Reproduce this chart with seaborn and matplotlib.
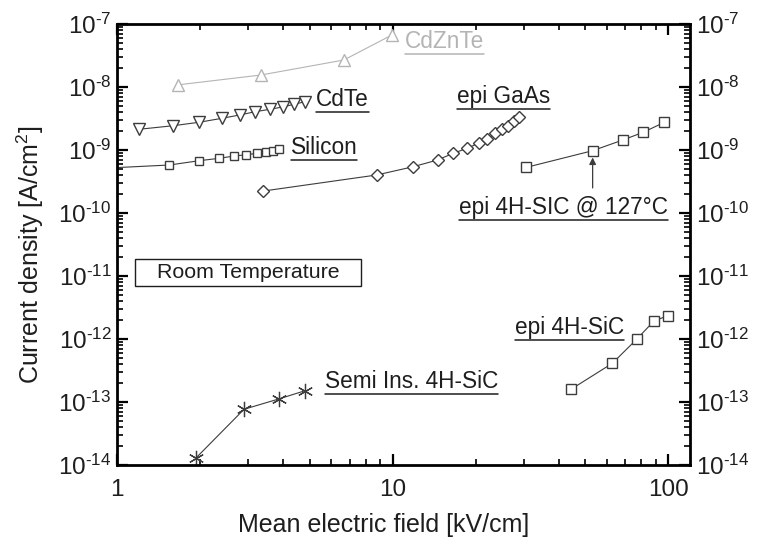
import numpy as np
import matplotlib
matplotlib.use("Agg")
import matplotlib.pyplot as plt
import seaborn as sns
from matplotlib.ticker import LogLocator, FixedLocator, FuncFormatter, NullFormatter
from matplotlib.lines import Line2D
from matplotlib.patches import Rectangle

# ---- data ----
cdznte_x = [1.66, 3.33, 6.65, 9.95]
cdznte_y = [1.08e-8, 1.55e-8, 2.68e-8, 6.7e-8]

cdte_x = [1.20, 1.60, 1.98, 2.41, 2.79, 3.18, 3.59, 3.99, 4.39, 4.81]
cdte_y = [2.13e-9, 2.43e-9, 2.75e-9, 3.19e-9, 3.6e-9, 4.06e-9, 4.43e-9, 4.82e-9, 5.31e-9, 5.85e-9]

si_x = [0.95, 1.55, 1.99, 2.35, 2.66, 2.95, 3.23, 3.46, 3.67, 3.88]
si_y = [5.2e-10, 5.78e-10, 6.77e-10, 7.38e-10, 8.03e-10, 8.42e-10, 8.87e-10, 9.3e-10, 9.64e-10, 1.03e-9]

gaas_x = [3.39, 8.75, 11.88, 14.56, 16.6, 18.6, 20.5, 22.0, 23.6, 24.9, 26.3, 27.6, 28.7]
gaas_y = [2.23e-10, 4.01e-10, 5.43e-10, 6.94e-10, 8.87e-10, 1.06e-9, 1.28e-9, 1.48e-9,
          1.84e-9, 2.13e-9, 2.43e-9, 2.88e-9, 3.38e-9]

sic127_x = [30.6, 53.2, 68.4, 81.2, 96.8]
sic127_y = [5.31e-10, 9.75e-10, 1.44e-9, 1.91e-9, 2.75e-9]

sic_x = [44.4, 62.7, 76.8, 88.8, 99.6]
sic_y = [1.59e-13, 4.11e-13, 9.88e-13, 1.93e-12, 2.34e-12]

si_sic_x = [1.93, 2.89, 3.87, 4.81]
si_sic_y = [1.28e-14, 7.66e-14, 1.12e-13, 1.51e-13]

x_ticks = [1, 10, 100]
x_tick_labels = ["1", "10", "100"]
y_decades = [-14, -13, -12, -11, -10, -9, -8, -7]

# ---- style ----
sns.set_theme(style="white")
plt.rcParams['font.family'] = ['Liberation Sans', 'DejaVu Sans']
plt.rcParams['mathtext.fontset'] = 'custom'
plt.rcParams['mathtext.rm'] = 'Liberation Sans'
plt.rcParams['mathtext.it'] = 'Liberation Sans'
plt.rcParams['mathtext.bf'] = 'Liberation Sans'

DARK = '#3c3c3c'
LIGHT = '#b4b4b4'
TXT = '#1e1e1e'

fig = plt.figure(figsize=(7.67, 5.48), dpi=100)
ax = fig.add_axes([117 / 767, 1 - 465 / 548, (690 - 117) / 767, (465 - 24) / 548])

def series(x, y, marker, ms, color, mew=1.0):
    sns.lineplot(x=x, y=y, ax=ax, sort=False, estimator=None, color=color, lw=0.8,
                 marker=marker, markersize=ms, markerfacecolor='white',
                 markeredgecolor=color, markeredgewidth=mew)

series(cdznte_x, cdznte_y, '^', 9, LIGHT)
series(cdte_x, cdte_y, 'v', 8, DARK)
series(si_x, si_y, 's', 6, DARK)
series(gaas_x, gaas_y, 'D', 6.5, DARK)
series(sic127_x, sic127_y, 's', 7, DARK)
series(sic_x, sic_y, 's', 6.5, DARK)
series(si_sic_x, si_sic_y, (6, 2, 0), 11, DARK, mew=0.9)

ax.set_xscale('log')
ax.set_yscale('log')
ax.set_xlim(1, 120)
ax.set_ylim(1e-14, 1e-7)

ax.xaxis.set_major_locator(FixedLocator(x_ticks))
ax.set_xticklabels(x_tick_labels)
ax.xaxis.set_minor_locator(LogLocator(base=10, subs=np.arange(2, 10), numticks=100))
ax.xaxis.set_minor_formatter(NullFormatter())

ax.yaxis.set_major_locator(FixedLocator([10.0 ** d for d in y_decades]))
ax.yaxis.set_major_formatter(FuncFormatter(
    lambda v, p: "$\\mathregular{10^{\u2010%d}}$" % abs(int(round(np.log10(v))))))
ax.yaxis.set_minor_locator(LogLocator(base=10, subs=np.arange(2, 10), numticks=100))
ax.yaxis.set_minor_formatter(NullFormatter())

ax.tick_params(axis='both', which='major', direction='in', length=8, width=1.6,
               color='black', labelsize=17.5, labelcolor=TXT,
               top=True, right=True, bottom=True, left=True)
ax.tick_params(axis='both', which='minor', direction='in', length=4.5, width=1.2,
               color='black', top=True, right=True, bottom=True, left=True)
ax.tick_params(axis='y', which='both', labelright=True, labelleft=True, pad=4)
ax.tick_params(axis='x', which='major', pad=10)

for s in ax.spines.values():
    s.set_visible(True)
    s.set_linewidth(2)
    s.set_color('black')
ax.grid(False)

ax.set_xlabel("Mean electric field [kV/cm]", fontsize=18, color=TXT, va='center')
ax.set_ylabel("Current density [A/cm$^2$]", fontsize=18, color=TXT, va='center')
ax.xaxis.set_label_coords(0.466, -0.136)
ax.yaxis.set_label_coords(-0.152, 0.476)

# ---- annotations ----
FS = 16.3
labels = [
    ("CdZnTe", 11.08, 5.18e-8, LIGHT),
    ("CdTe", 5.27, 6.22e-9, TXT),
    ("Silicon", 4.27, 1.10e-9, TXT),
    ("epi GaAs", 17.12, 7.19e-9, TXT),
    ("epi 4H-SIC @ 127°C", 17.4, 1.245e-10, TXT),
    ("epi 4H-SiC", 27.8, 1.55e-12, TXT),
    ("Semi Ins. 4H-SiC", 5.68, 2.15e-13, TXT),
]
texts = []
for t, x, y, c in labels:
    texts.append((ax.text(x, y, t, fontsize=FS, color=c, ha='left', va='center'), c))

room = ax.text(2.99, 1.12e-11, "Room Temperature", fontsize=15.4, color=TXT,
               ha='center', va='center')

ax.annotate("", xy=(53.2, 7.6e-10), xytext=(53.2, 2.5e-10),
            arrowprops=dict(arrowstyle='-|>', color=DARK, lw=0.9,
                            mutation_scale=10, shrinkA=0, shrinkB=0))

fig.canvas.draw()
r = fig.canvas.get_renderer()
inv = fig.transFigure.inverted()
for t, c in texts:
    bb = t.get_window_extent(r)
    (x0, y0), (x1, _) = inv.transform([(bb.x0, bb.y0 - 1), (bb.x1, bb.y0 - 1)])
    fig.add_artist(Line2D([x0, x1], [y0, y0], transform=fig.transFigure,
                          color=c, lw=1.1))

bb = room.get_window_extent(r)
(x0, y0), (x1, y1) = inv.transform([(bb.x0 - 22, bb.y0 - 4), (bb.x1 + 22, bb.y1 + 4)])
fig.add_artist(Rectangle((x0, y0), x1 - x0, y1 - y0, transform=fig.transFigure,
                         fill=False, edgecolor=TXT, lw=1.0))

fig.savefig("out.png", dpi=100, facecolor='white')
